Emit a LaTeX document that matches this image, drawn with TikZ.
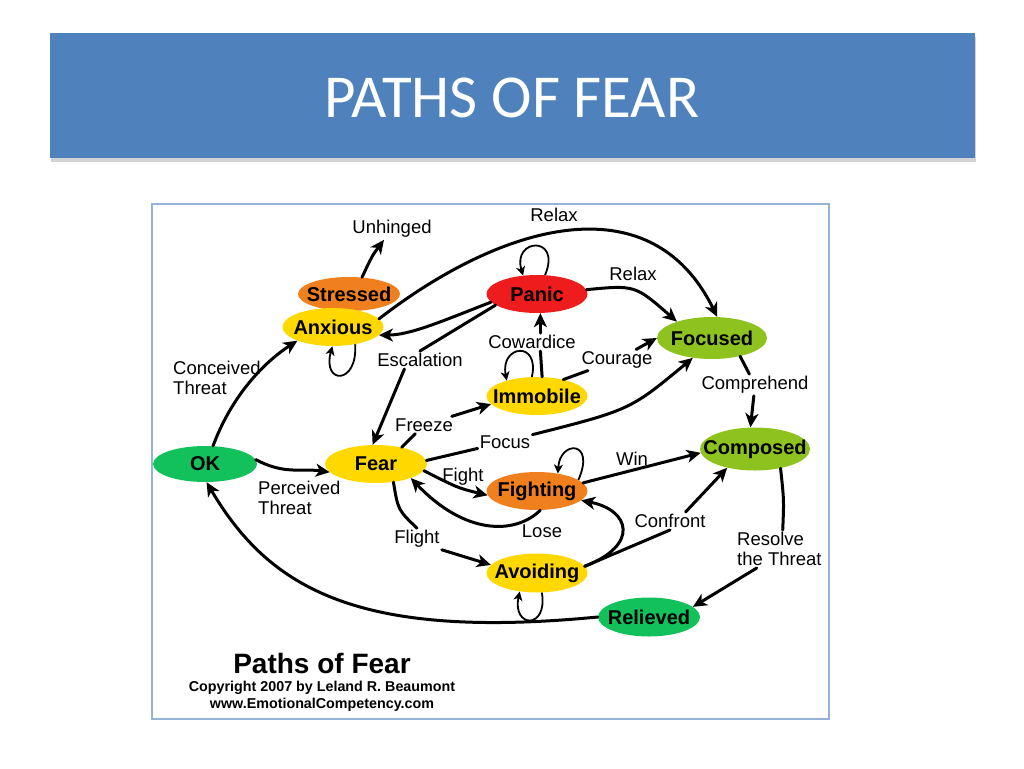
\documentclass[tikz,border=0pt]{standalone}
\usepackage{fontspec}
\setmainfont{Liberation Sans}
\newfontfamily\slidefont{Carlito}
\usetikzlibrary{arrows.meta,shapes.geometric,shadows}
\definecolor{slideblue}{HTML}{4F81BD}
\definecolor{boxline}{HTML}{95B3D7}
\definecolor{cOrange}{HTML}{F07F1E}
\definecolor{cYellow}{HTML}{FFD800}
\definecolor{cRed}{HTML}{EE1C1C}
\definecolor{cLime}{HTML}{8DC21F}
\definecolor{cGreen}{HTML}{12C15C}

\begin{document}
\begin{tikzpicture}[x=1pt,y=-1pt,
  state/.style={ellipse,inner sep=0pt,font=\bfseries\fontsize{20}{20}\selectfont},
  lbl/.style={inner sep=2pt,align=left,font=\fontsize{18.5}{20}\selectfont},
  seg/.style={line width=3pt,line cap=round},
  link/.style={seg,-{Stealth[length=14pt,width=13pt,inset=4pt]}},
  selfloop/.style={line width=1.8pt,-{Stealth[length=9pt,width=9pt,inset=2.5pt]}}]
  \useasboundingbox (0,0) rectangle (1024,768);
  % slide title
  \fill[slideblue,drop shadow={shadow xshift=1pt,shadow yshift=-4pt,opacity=.35}] (50,33) rectangle (975,158);
  \node[text=white,font=\slidefont\fontsize{61}{61}\selectfont] (title) at (512,98) {PATHS OF FEAR};
  % picture frame
  \draw[boxline,line width=1.2pt,fill=white] (152,204) rectangle (829,719);
  % states (text kept from widening the ellipse)
  \foreach \nm/\txt/\col/\x/\y/\w/\h in {
      stressed/Stressed/cOrange/349/294/102/34,
      anxious/Anxious/cYellow/333/327/101/38,
      panic/Panic/cRed/537/294/101/38,
      immobile/Immobile/cYellow/537/396/101/38,
      focused/Focused/cLime/712/338/110/42,
      composed/Composed/cLime/755/449/110/43,
      fighting/Fighting/cOrange/537/491/101/38,
      avoiding/Avoiding/cYellow/537/573/101/39,
      relieved/Relieved/cGreen/649/617/102/39,
      ok/OK/cGreen/205/464/104/36,
      fear/Fear/cYellow/376/464/102/38}
    \node[state,fill=\col,minimum width=\w pt,minimum height=\h pt] (\nm) at (\x,\y) {\makebox[0pt]{\txt}};
  % edge labels
  \node[lbl] (unhinged) at (392,229) {Unhinged};
  \node[lbl] (relaxA) at (554,215) {Relax};
  \node[lbl] (relaxB) at (633,274) {Relax};
  \node[lbl,anchor=west] (conceived) at (171,378) {Conceived\\Threat};
  \node[lbl] (escal) at (420,360) {Escalation};
  \node[lbl] (coward) at (532,342) {Cowardice};
  \node[lbl] (courage) at (617,360) {Courage};
  \node[lbl] (compre) at (755,385) {Comprehend};
  \node[lbl] (freeze) at (424,425) {Freeze};
  \node[lbl] (focus) at (505,442) {Focus};
  \node[lbl] (fight) at (463,477) {Fight};
  \node[lbl] (win) at (632,459) {Win};
  \node[lbl,anchor=west] (perceived) at (256,498) {Perceived\\Threat};
  \node[lbl] (lose) at (542,531) {Lose};
  \node[lbl] (confront) at (670,521) {Confront};
  \node[lbl] (flight) at (417,539) {Flight};
  \node[lbl,anchor=west] (resolve) at (735,549) {Resolve\\the Threat};
  % connectors
  \draw[link] (stressed.52) .. controls (372,256) .. (unhinged);
  \draw[link] (anxious.10) .. controls (500,225) and (650,180) .. (focused.76);
  \draw[link] (panic.5) .. controls (635,285) .. (focused.155);
  \draw[link] (panic.190) .. controls (440,322) and (410,335) .. (anxious.-10);
  \draw[seg] (panic.195) -- (escal.north);
  \draw[link] (escal.210) -- (fear.100);
  \draw[link] (ok.66) .. controls (230,400) and (260,365) .. (anxious.201);
  \draw[link] (ok.5) .. controls (285,475) and (300,468) .. (fear.190);
  \draw[seg] (fear.33) -- (freeze);
  \draw[link] (freeze) -- (immobile.190);
  \draw[seg] (fear.4) -- (focus);
  \draw[link] (focus.15) .. controls (630,410) .. (focused.226);
  \draw[link] (fear.-8) .. controls (458,488) .. (fighting.185);
  \draw[link] (fighting.-80) .. controls (515,535) and (465,535) .. (fear.-22);
  \draw[seg] (fear.-46) .. controls (398,510) .. (flight.north);
  \draw[link] (flight.south east) -- (avoiding.170);
  \draw[seg] (immobile.75) -- (coward.south -| panic.-80);
  \draw[link] (coward.north -| panic.-80) -- (panic.-80);
  \draw[seg] (immobile.32) -- (courage);
  \draw[link] (courage) -- (focused.west);
  \draw[seg] (focused.-33) -- (compre);
  \draw[link] (compre) -- (composed.102);
  \draw[link] (fighting.10) -- (composed.184);
  \draw[link] (avoiding.8) .. controls (640,545) and (630,510) .. (fighting.-12);
  \draw[seg] (avoiding.8) -- (confront.south);
  \draw[link] (confront.30) -- (composed.214);
  \draw[seg] (composed.-37) .. controls (784,500) .. (resolve.80);
  \draw[link] (resolve.-140) -- (relieved.13);
  \draw[link] (relieved.west) .. controls (360,640) and (270,590) .. (ok.-85);
  % self loops
  \draw[selfloop] (anxious.-38) .. controls (358,385) and (322,385) .. (anxious.-92);
  \draw[selfloop] (panic.67) .. controls (562,235) and (512,238) .. (panic.127);
  \draw[selfloop] (immobile.105) .. controls (540,340) and (500,345) .. (immobile.153);
  \draw[selfloop] (fighting.15) .. controls (596,440) and (560,440) .. (fighting.40);
  \draw[selfloop] (avoiding.-76) .. controls (548,630) and (512,628) .. (avoiding.-133);
  % caption
  \node[font=\bfseries\fontsize{28}{28}\selectfont] (caption) at (322,663) {Paths of Fear};
  \node[font=\bfseries\fontsize{14.3}{15}\selectfont] (copy) at (322,688) {Copyright 2007 by Leland R. Beaumont};
  \node[font=\bfseries\fontsize{14.3}{15}\selectfont] (web) at (322,705) {www.EmotionalCompetency.com};
\end{tikzpicture}
\end{document}
